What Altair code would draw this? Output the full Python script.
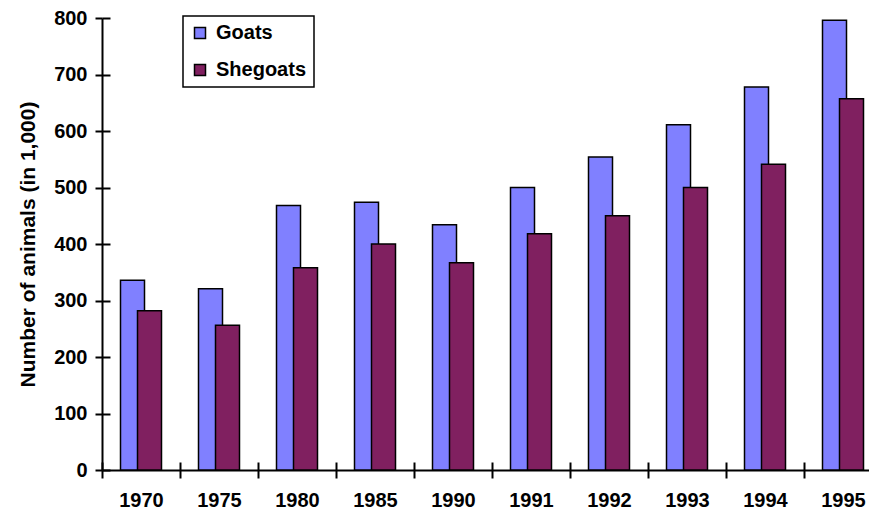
import altair as alt
import pandas as pd

years = ["1970", "1975", "1980", "1985", "1990", "1991", "1992", "1993", "1994", "1995"]
goats = [336, 321, 468, 474, 434, 500, 554, 611, 678, 796]
shegoats = [282, 256, 358, 400, 367, 418, 450, 500, 541, 657]
series = ["Goats", "Shegoats"]
colors = ["#8080FF", "#802060"]
y_ticks = [0, 100, 200, 300, 400, 500, 600, 700, 800]

df = pd.DataFrame({
    "year": years + years,
    "series": [series[0]] * len(years) + [series[1]] * len(years),
    "value": goats + shegoats,
})

FONT = "Liberation Sans"
x_scale = alt.Scale(domain=years, range=[0, 780], paddingInner=0, paddingOuter=0)
y_scale = alt.Scale(domain=[0, 800], nice=False)

bars = alt.Chart(df).mark_bar(width=24, stroke="black", strokeWidth=1.5).encode(
    x=alt.X("year:N", sort=years, scale=x_scale,
            axis=alt.Axis(title=None, orient="bottom", tickBand="extent", tickSize=8, tickWidth=2,
                          tickColor="black", domainColor="black", domainWidth=2,
                          labelFont=FONT, labelFontSize=20, labelFontWeight="bold",
                          labelColor="black", labelPadding=12, labelAngle=0)),
    xOffset=alt.XOffset("series:N", sort=series,
                        scale=alt.Scale(domain=series, range=[22, 56], paddingInner=0, paddingOuter=0)),
    y=alt.Y("value:Q", scale=y_scale,
            axis=alt.Axis(orient="left", values=y_ticks, grid=False, tickSize=7, tickWidth=2,
                          tickColor="black", domainColor="black", domainWidth=2,
                          labelFont=FONT, labelFontSize=20, labelFontWeight="bold",
                          labelColor="black", labelPadding=8,
                          title="Number of animals (in 1,000)", titleFont=FONT,
                          titleFontSize=21, titleFontWeight="bold", titleColor="black",
                          titlePadding=15)),
    color=alt.Color("series:N", scale=alt.Scale(domain=series, range=colors),
                    legend=alt.Legend(title=None, orient="none", legendX=81, legendY=-2,
                                      strokeColor="black", padding=7, rowPadding=17,
                                      symbolType="square", symbolSize=121,
                                      symbolStrokeColor="black", symbolStrokeWidth=1.5,
                                      labelFont=FONT, labelFontSize=20, labelFontWeight="bold",
                                      labelColor="black", labelOffset=6)),
)

inner_ticks = alt.Chart(df).mark_bar(opacity=0).encode(
    x=alt.X("year:N", sort=years, scale=x_scale,
            axis=alt.Axis(title=None, orient="bottom", offset=-8, tickBand="extent", tickSize=8,
                          tickWidth=2, tickColor="black", domain=False, labels=False)),
    y=alt.Y("value:Q", scale=y_scale,
            axis=alt.Axis(title=None, orient="left", offset=-8, values=y_ticks, grid=False,
                          tickSize=8, tickWidth=2, tickColor="black", domain=False, labels=False)),
)

chart = alt.layer(bars, inner_ticks).resolve_axis(x="independent", y="independent").properties(
    width=767, height=452,
    autosize=alt.AutoSizeParams(type="none"),
    padding={"left": 94, "top": 10, "right": 0, "bottom": 41},
).configure(font=FONT).configure_view(stroke="transparent").configure_legend(strokeWidth=1.5)

chart.save("out.html", embed_options={"renderer": "svg", "actions": False})
